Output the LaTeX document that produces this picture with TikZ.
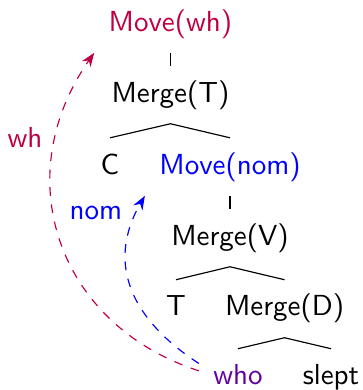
\documentclass[tikz,border=0pt]{standalone}
\usepackage{tikz}
\usepackage{xcolor}
\usetikzlibrary{arrows.meta}
\definecolor{whcolor}{RGB}{191,0,64}
\definecolor{nomcolor}{RGB}{0,0,255}
\definecolor{whocolor}{RGB}{96,0,160}
\tikzset{
  word/.style={anchor=base, font=\sffamily, inner sep=4.8pt, text height=7.5pt, text depth=2.5pt},
  label/.style={font=\sffamily, inner sep=1pt},
  moveline/.style={-{Stealth}, dashed, looseness=1.15}
}
\begin{document}
\begin{tikzpicture}
            \useasboundingbox (0,0) rectangle (4.387,-4.726);
            % derivation tree
            \node[word, text=whcolor] (movewh) at (2.066,-0.376) {Move(wh)};
            \node[word] (mergeT) at (2.066,-1.236) {Merge(T)};
            \node[word] (C) at (1.333,-2.109) {C};
            \node[word, text=nomcolor] (movenom) at (2.787,-2.109) {Move(nom)};
            \node[word] (mergeV) at (2.787,-2.969) {Merge(V)};
            \node[word] (T) at (2.133,-3.829) {T};
            \node[word] (mergeD) at (3.448,-3.829) {Merge(D)};
            \node[word, text=whocolor] (who) at (2.884,-4.665) {who};
            \node[word] (slept) at (4.011,-4.665) {slept};
            \draw (movewh.south) -- (mergeT.north);
            \draw (C.north) -- (mergeT.south) -- (movenom.north);
            \draw (movenom.south) -- (mergeV.north);
            \draw (T.north) -- (mergeV.south) -- (mergeD.north);
            \draw (who.north) -- (mergeD.south) -- (slept.north);
            % movement arrows
            \node[label, text=whcolor] (whlabel) at (0.303,-1.660) {wh};
            \node[label, text=nomcolor] (nomlabel) at (1.163,-2.581) {nom};
            \draw[moveline, whcolor] (who.170) to[out=162, in=235] (movewh.south west);
            \draw[moveline, nomcolor] (who.160) to[out=147, in=240] (movenom.south west);
        \end{tikzpicture}
\end{document}
